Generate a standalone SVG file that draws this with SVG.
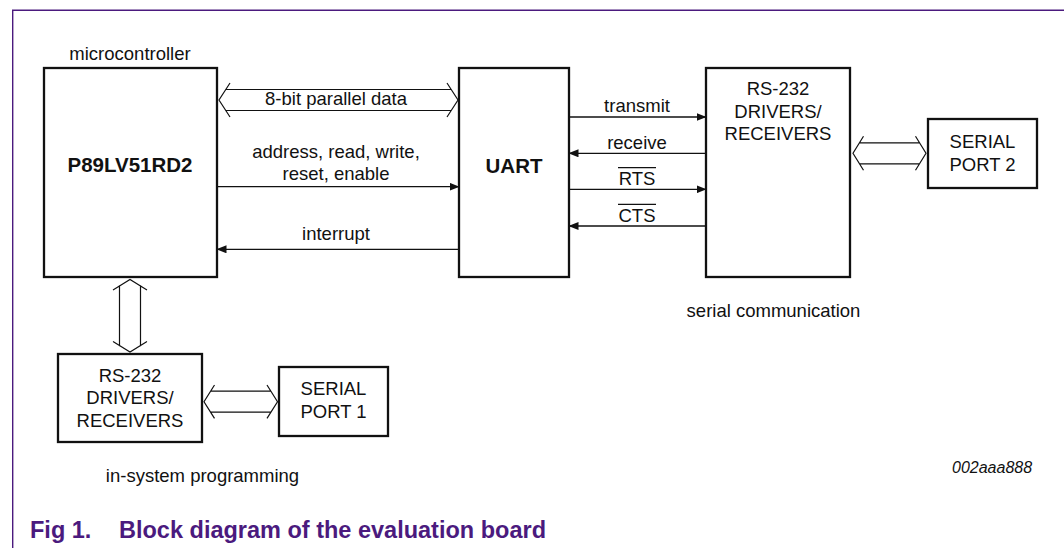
<svg xmlns="http://www.w3.org/2000/svg" width="1064" height="548" viewBox="0 0 1064 548">
<style>
text{font-family:"Liberation Sans",Arial,sans-serif;fill:#111;}
.lbl{font-size:18.5px;text-anchor:middle;}
.bold{font-size:20.5px;font-weight:bold;text-anchor:middle;}
.box{fill:#fff;stroke:#111;stroke-width:2.3;}
.wire{fill:none;stroke:#111;stroke-width:1.3;}
.bus{fill:none;stroke:#111;stroke-width:1.2;stroke-linejoin:miter;}
.frame{stroke:#4b1a7e;stroke-width:1.4;fill:none;}
.cap{font-size:23.5px;font-weight:bold;fill:#4b1a7e;}
.id{font-size:16px;font-style:italic;text-anchor:start;}
</style>
<defs>
<marker id="ah" markerUnits="userSpaceOnUse" markerWidth="10" markerHeight="8" refX="9.5" refY="4" orient="auto">
<path d="M0,0 L10,4 L0,8 z" fill="#111"/>
</marker>
</defs>
<g id="frame">
<line class="frame" x1="12" y1="10.3" x2="1064" y2="10.3"/>
<line class="frame" x1="12.7" y1="10" x2="12.7" y2="548"/>
</g>
<g id="microcontroller">
<text class="lbl" x="130" y="60">microcontroller</text>
<rect class="box" x="44" y="68" width="173" height="209"/>
<text class="bold" x="130" y="172">P89LV51RD2</text>
</g>
<g id="uart">
<rect class="box" x="459" y="68" width="110" height="209"/>
<text class="bold" x="514" y="173">UART</text>
</g>
<g id="rs232-comm">
<rect class="box" x="706" y="68" width="144" height="209"/>
<text class="lbl" x="778" y="95">RS-232</text>
<text class="lbl" x="778" y="117.5">DRIVERS/</text>
<text class="lbl" x="778" y="140">RECEIVERS</text>
<text class="lbl" x="773.5" y="316.7">serial communication</text>
</g>
<g id="serial-port-2">
<rect class="box" x="928" y="119" width="109" height="69"/>
<text class="lbl" x="982.5" y="147.7">SERIAL</text>
<text class="lbl" x="982.5" y="170.7">PORT 2</text>
</g>
<g id="rs232-isp">
<rect class="box" x="58" y="354" width="144" height="88"/>
<text class="lbl" x="130" y="381.5">RS-232</text>
<text class="lbl" x="130" y="404">DRIVERS/</text>
<text class="lbl" x="130" y="426.5">RECEIVERS</text>
<text class="lbl" x="202.5" y="481.5">in-system programming</text>
</g>
<g id="serial-port-1">
<rect class="box" x="279" y="367" width="109" height="69"/>
<text class="lbl" x="333.5" y="395">SERIAL</text>
<text class="lbl" x="333.5" y="417.7">PORT 1</text>
</g>
<g id="connectors">
<path class="bus" d="M230,83 L219,100 L230,117 M447,83 L458,100 L447,117 M225.8,89.5 L451.2,89.5 M225.8,110.5 L451.2,110.5"/>
<text class="lbl" x="336" y="105">8-bit parallel data</text>
<line class="wire" x1="217" y1="186.7" x2="459" y2="186.7" marker-end="url(#ah)"/>
<text class="lbl" x="336" y="157.7">address, read, write,</text>
<text class="lbl" x="336" y="180.3">reset, enable</text>
<line class="wire" x1="459" y1="249.3" x2="217" y2="249.3" marker-end="url(#ah)"/>
<text class="lbl" x="336" y="240">interrupt</text>
<line class="wire" x1="569" y1="117" x2="706" y2="117" marker-end="url(#ah)"/>
<text class="lbl" x="637" y="111.5">transmit</text>
<line class="wire" x1="706" y1="153.3" x2="569" y2="153.3" marker-end="url(#ah)"/>
<text class="lbl" x="637" y="149">receive</text>
<line class="wire" x1="569" y1="189.3" x2="706" y2="189.3" marker-end="url(#ah)"/>
<text class="lbl" x="637" y="185">RTS</text>
<line class="wire" x1="618" y1="167.7" x2="656" y2="167.7"/>
<line class="wire" x1="706" y1="226" x2="569" y2="226" marker-end="url(#ah)"/>
<text class="lbl" x="637" y="221.7">CTS</text>
<line class="wire" x1="618" y1="204.3" x2="656" y2="204.3"/>
<path class="bus" d="M863.5,136.3 L853,153.3 L863.5,170.3 M915.5,136.3 L926,153.3 L915.5,170.3 M859.5,142.8 L919.5,142.8 M859.5,163.8 L919.5,163.8"/>
<path class="bus" d="M113,290 L130,279.5 L147,290 M113,341.5 L130,352 L147,341.5 M119.5,285.2 L119.5,346.3 M140.5,285.2 L140.5,346.3"/>
<path class="bus" d="M214.5,385 L204,401.7 L214.5,418.4 M267,385 L277.5,401.7 L267,418.4 M210.6,391.2 L270.9,391.2 M210.6,412.2 L270.9,412.2"/>
</g>
<g id="caption">
<text class="id" x="952" y="473.3">002aaa888</text>
<text class="cap" x="30" y="538.3">Fig 1.</text>
<text class="cap" x="119" y="538.3">Block diagram of the evaluation board</text>
</g>
</svg>
